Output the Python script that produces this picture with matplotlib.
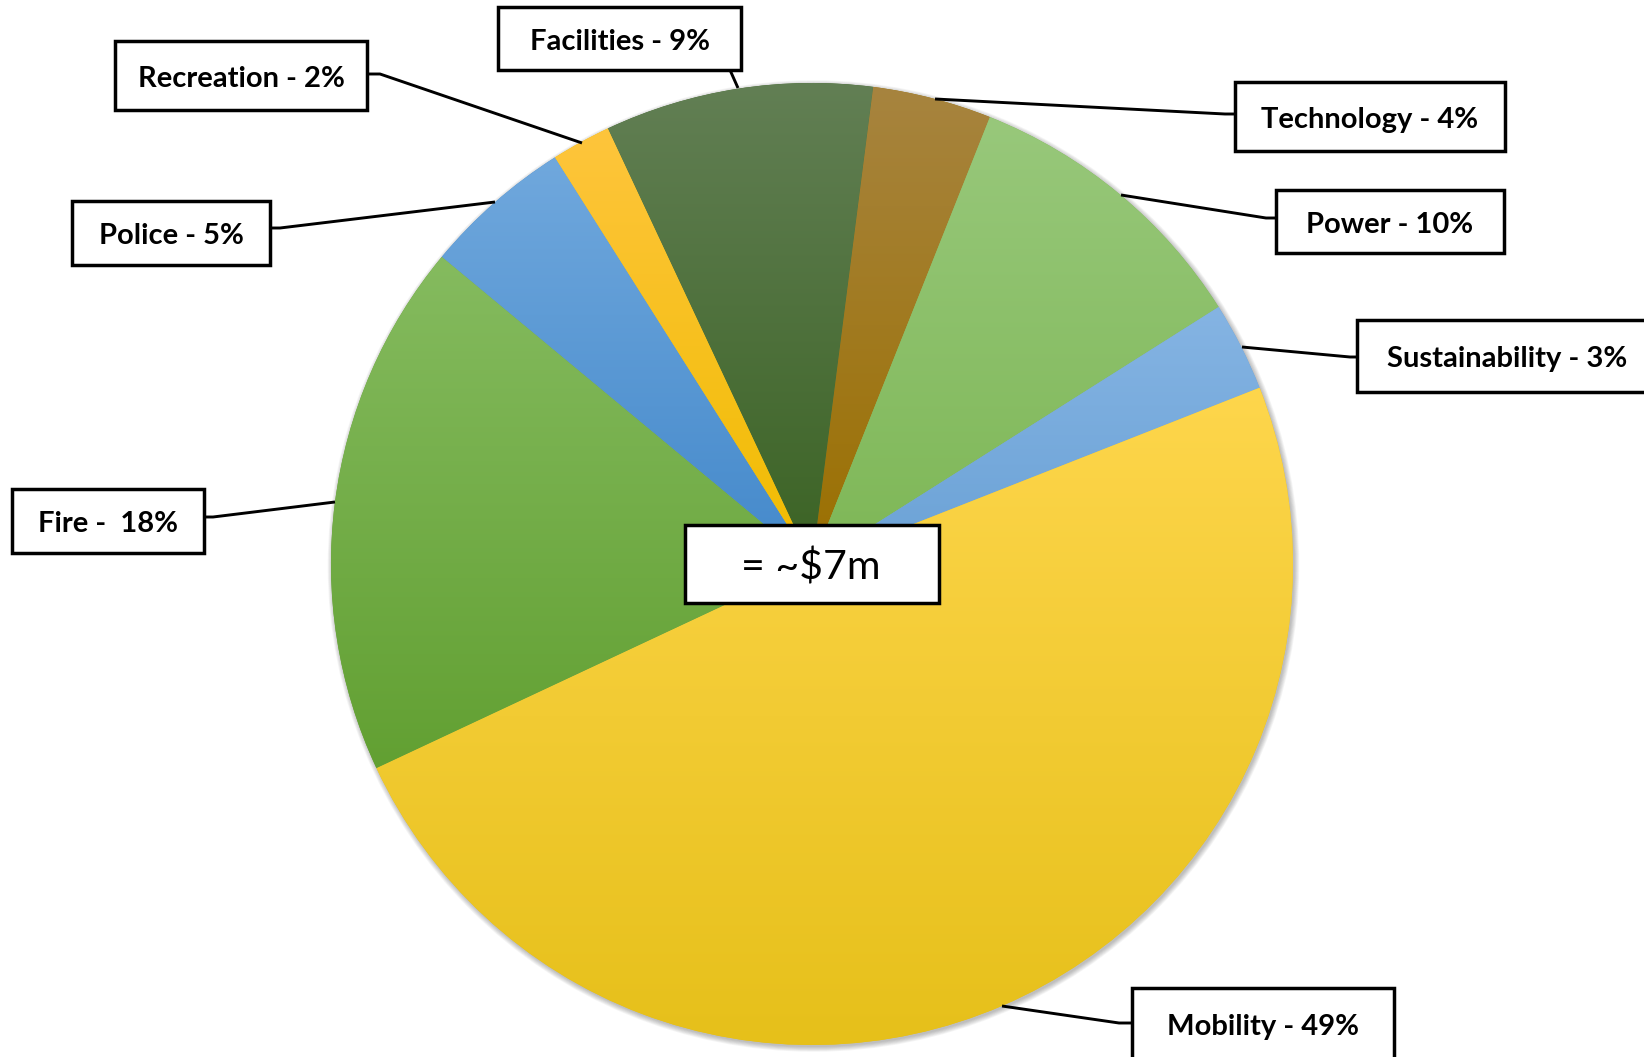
import numpy as np
import matplotlib
matplotlib.use('Agg')
import matplotlib.pyplot as plt
from matplotlib.patches import Rectangle, Circle
from matplotlib.colors import to_rgb

# spending split, listed clockwise starting just right of 12 o'clock
categories = ['Technology', 'Power', 'Sustainability', 'Mobility',
              'Fire', 'Police', 'Recreation', 'Facilities']
shares = [4, 10, 3, 49, 18, 5, 2, 9]
total_label = '= ~$7m'

# gradient colours (top, bottom) per slice
top_colors = ['#A7843F', '#98C87B', '#85B4E3', '#FED64C',
              '#85BB5F', '#70A8DD', '#FEC53C', '#627F54']
bottom_colors = ['#9B7000', '#7EB756', '#6BA2D6', '#E6C01A',
                 '#62A032', '#4489CB', '#F0BC00', '#3B6324']

W, H = 1644, 1057
cx, cy, R = 812, 564, 481

# callout boxes (x0, y0, x1, y1), text anchor (x, baseline) and leader lines
boxes = {
    'Technology': (1235, 82, 1505, 151),
    'Power': (1276, 190, 1504, 253),
    'Sustainability': (1357, 320, 1670, 392),
    'Mobility': (1132, 988, 1394, 1080),
    'Fire': (12, 489, 204, 553),
    'Police': (72, 201, 270, 265),
    'Recreation': (115, 41, 367, 110),
    'Facilities': (498, 7, 741, 70),
}
text_pos = {
    'Technology': (1370, 128),
    'Power': (1390, 233),
    'Sustainability': (1507, 367),
    'Mobility': (1263, 1035),
    'Fire': (108, 532),
    'Police': (171, 244),
    'Recreation': (241, 87),
    'Facilities': (619.5, 50.5),
}
leaders = {
    'Technology': [(1235, 114), (1225, 114), (935, 99)],
    'Power': [(1276, 218), (1266, 218), (1121, 195)],
    'Sustainability': [(1357, 357), (1350, 357), (1242, 347)],
    'Mobility': [(1132, 1023), (1119, 1023), (1002, 1006)],
    'Fire': [(204, 517), (213, 517), (335, 502)],
    'Police': [(270, 228), (280, 228), (495, 202)],
    'Recreation': [(367, 74), (380, 74), (582, 143)],
    'Facilities': [(730, 70), (738, 88)],
}

fig = plt.figure(figsize=(W / 100, H / 100), dpi=100)
ax = fig.add_axes([0, 0, 1, 1])

# soft shadow under the pie
for k in range(7):
    ax.add_patch(Circle((cx + 1.5, cy + 2), R + 0.8 * k, facecolor='black',
                        edgecolor='none', alpha=0.04, zorder=1))

# y axis is flipped so data angles run clockwise on screen
wedges, _ = ax.pie(shares, startangle=-82.7, counterclock=True,
                   center=(cx, cy), radius=R,
                   wedgeprops=dict(linewidth=0, zorder=2))

for w, c_top, c_bot in zip(wedges, top_colors, bottom_colors):
    w.set_facecolor(c_bot)
    ext = w.get_path().get_extents()
    t = np.linspace(0, 1, 256)[:, None]
    grad = (1 - t) * np.array(to_rgb(c_top)) + t * np.array(to_rgb(c_bot))
    im = ax.imshow(grad[:, None, :], extent=(ext.x0, ext.x1, ext.y1, ext.y0),
                   origin='upper', aspect='auto', interpolation='bilinear',
                   zorder=3)
    im.set_clip_path(w)

label_font = ['Lato', 'DejaVu Sans']
for name, share in zip(categories, shares):
    x0, y0, x1, y1 = boxes[name]
    pts = np.array(leaders[name])
    ax.plot(pts[:, 0], pts[:, 1], color='black', lw=2.1,
            solid_capstyle='butt', zorder=5)
    ax.add_patch(Rectangle((x0, y0), x1 - x0, y1 - y0, facecolor='white',
                           edgecolor='black', lw=2.5, joinstyle='miter',
                           zorder=6))
    sep = ' -  ' if name == 'Fire' else ' - '
    tx, ty = text_pos[name]
    ax.text(tx, ty, f'{name}{sep}{share}%', ha='center', va='baseline',
            fontsize=21, fontweight='bold', family=label_font, zorder=7)

# total in the middle
ax.add_patch(Rectangle((685, 525), 254, 78, facecolor='white',
                       edgecolor='black', lw=2.5, joinstyle='miter',
                       zorder=6))
ax.text(811, 580, total_label, ha='center', va='baseline', fontsize=29.5,
        family=label_font, parse_math=False, zorder=7)

ax.set_xlim(0, W)
ax.set_ylim(H, 0)
ax.set_aspect('auto')
ax.axis('off')

fig.savefig('out.png', dpi=100, facecolor='white')
